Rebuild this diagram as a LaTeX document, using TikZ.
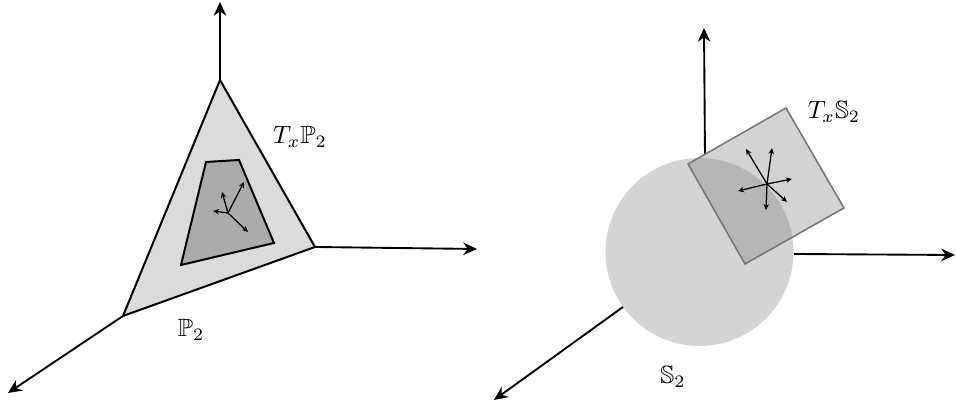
\documentclass[tikz,border=0pt]{standalone}
\usepackage{amsmath,amssymb}
\usetikzlibrary{arrows.meta}
\tikzset{
  axis/.style = {line width=0.75pt, -{Stealth[length=5.5pt,width=5pt]}},
  vec/.style  = {line width=0.5pt, -{Stealth[length=2.4pt,width=2.2pt]}},
  face/.style = {draw, line width=0.8pt, fill=#1},
  face/.default = black!14
}

\begin{document}
\begin{tikzpicture}[x=0.4pt, y=0.4pt]
	\useasboundingbox (0,0) rectangle (956,404);

	% Left: simplex P_2
	\coordinate (top)   at (220,324);
	\coordinate (right) at (315,157);
	\coordinate (left)  at (123,88);
	\coordinate (topend)   at (220,402);
	\coordinate (rightend) at (477,155);
	\coordinate (leftend)  at (8,11);

	\draw[face] (top) -- (right) -- (left) -- cycle;
	\draw[face=black!33] (206,242) -- (239,244) -- (274,161) -- (181,139) -- cycle;

	% Axes
	\draw[axis] (top) -- (topend);
	\draw[axis] (right) -- (rightend);
	\draw[axis] (left) -- (leftend);

	% Vectors
	\coordinate (p) at (228,191);
	\draw[vec] (p) -- (222,212);
	\draw[vec] (p) -- (244,222);
	\draw[vec] (p) -- (213,193);
	\draw[vec] (p) -- (248,172);

	\node (TP) at (300,267) {$T_x\mathbb{P}_2$};
	\node (P)  at (191,74)  {$\mathbb{P}_2$};

	% Right: sphere S_2
	\coordinate (c) at (699.5,152);
	\fill[black!17] (c) circle (94);

	\draw[axis] (705,249) -- (704,376);
	\draw[axis] (794,150) -- (955,149);
	\draw[axis] (623,97)  -- (494,4);

	\draw[draw=black!55, line width=0.6pt, fill=black!50, fill opacity=0.35]
		(688,240) -- (786,296) -- (844,196) -- (745,140) -- cycle;

	% Vectors
	\coordinate (q) at (767,220);
	\draw[vec] (q) -- (746,255);
	\draw[vec] (q) -- (772,256);
	\draw[vec] (q) -- (792,225);
	\draw[vec] (q) -- (787,202);
	\draw[vec] (q) -- (766,194);
	\draw[vec] (q) -- (738,213);

	\node (TS) at (834,292) {$T_x\mathbb{S}_2$};
	\node (S)  at (673,27)  {$\mathbb{S}_2$};
\end{tikzpicture}
\end{document}
